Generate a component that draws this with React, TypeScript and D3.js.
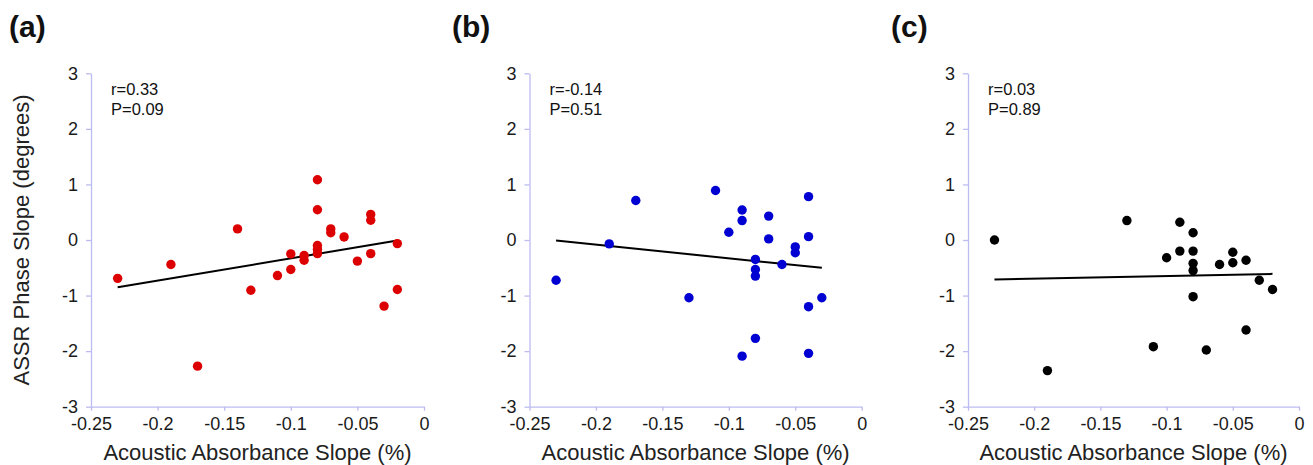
import { useEffect, useRef } from "react";
import * as d3 from "d3";

// panel (a) - red
const xA = [-0.23, -0.19, -0.17, -0.14, -0.13, -0.11, -0.1, -0.1, -0.09, -0.09, -0.08, -0.08, -0.08, -0.08, -0.08, -0.07, -0.07, -0.06, -0.05, -0.04, -0.04, -0.04, -0.03, -0.02, -0.02];
const yA = [-0.69, -0.44, -2.27, 0.2, -0.905, -0.64, -0.25, -0.53, -0.28, -0.365, 1.085, 0.545, -0.1, -0.17, -0.245, 0.2, 0.13, 0.055, -0.38, 0.46, 0.355, -0.245, -1.19, -0.065, -0.89];

// panel (b) - blue
const xB = [-0.23, -0.19, -0.17, -0.13, -0.11, -0.1, -0.09, -0.09, -0.09, -0.08, -0.08, -0.08, -0.08, -0.07, -0.07, -0.06, -0.05, -0.05, -0.04, -0.04, -0.04, -0.04, -0.03];
const yB = [-0.725, -0.07, 0.71, -1.04, 0.89, 0.14, 0.54, 0.35, -2.09, -0.35, -0.53, -0.65, -1.77, 0.43, 0.02, -0.44, -0.125, -0.23, 0.78, 0.06, -1.2, -2.04, -1.04];

// panel (c) - black
const xC = [-0.23, -0.19, -0.13, -0.11, -0.1, -0.09, -0.09, -0.08, -0.08, -0.08, -0.08, -0.08, -0.07, -0.06, -0.05, -0.05, -0.04, -0.04, -0.03, -0.02];
const yC = [0, -2.35, 0.35, -1.92, -0.32, 0.32, -0.2, 0.13, -0.2, -0.42, -0.55, -1.02, -1.98, -0.44, -0.22, -0.41, -0.365, -1.62, -0.725, -0.89];

// fitted lines: [intercept, slope], drawn over [min x, max x]
const fitA = [0.07, 4.0];
const fitB = [-0.574, -2.45];
const fitC = [-0.6, 0.476];

const panelLabels = ["(a)", "(b)", "(c)"];
const rLabels = ["r=0.33", "r=-0.14", "r=0.03"];
const pLabels = ["P=0.09", "P=0.51", "P=0.89"];

const xTicks = [-0.25, -0.2, -0.15, -0.1, -0.05, 0];
const yTicks = [-3, -2, -1, 0, 1, 2, 3];

const panels = [
  { xs: xA, ys: yA, fit: fitA, color: "#dd0000", left: 91, right: 424, labelX: 9 },
  { xs: xB, ys: yB, fit: fitB, color: "#0000d2", left: 529.5, right: 861.7, labelX: 452 },
  { xs: xC, ys: yC, fit: fitC, color: "#000000", left: 968, right: 1299, labelX: 891 },
];

const FONT = "'Liberation Sans', Arial, sans-serif";
const AXIS = "#bcbcf2";
const TOP = 73.3;
const BOTTOM = 406.7;

export default function App() {
  const svgRef = useRef<SVGSVGElement>(null);

  useEffect(() => {
    const svg = d3.select(svgRef.current);
    svg.selectAll("*").remove();

    panels.forEach((p, i) => {
      const x = d3.scaleLinear().domain([-0.25, 0]).range([p.left, p.right]);
      const y = d3.scaleLinear().domain([-3, 3]).range([BOTTOM, TOP]);

      const g = svg.append("g");

      const xAxis = d3.axisBottom(x)
        .tickValues(xTicks)
        .tickFormat(d => String(d))
        .tickSizeInner(4)
        .tickSizeOuter(0)
        .tickPadding(7);
      const yAxis = d3.axisLeft(y)
        .tickValues(yTicks)
        .tickFormat(d => String(d))
        .tickSizeInner(5)
        .tickSizeOuter(0)
        .tickPadding(8);

      const gx = g.append("g").attr("transform", `translate(0,${BOTTOM})`).call(xAxis);
      const gy = g.append("g").attr("transform", `translate(${p.left},0)`).call(yAxis);
      [gx, gy].forEach(a => {
        a.select(".domain").attr("stroke", AXIS).attr("stroke-width", 1.3);
        a.selectAll(".tick line").attr("stroke", AXIS).attr("stroke-width", 1.3);
        a.selectAll(".tick text")
          .attr("fill", "#1a1a1a")
          .style("font-family", FONT)
          .style("font-size", "18px");
      });

      // regression line
      const ext = d3.extent(p.xs) as [number, number];
      const line = d3.line<number>()
        .x(v => x(v))
        .y(v => y(p.fit[0] + p.fit[1] * v));
      g.append("path")
        .datum(ext)
        .attr("d", line)
        .attr("fill", "none")
        .attr("stroke", "#000")
        .attr("stroke-width", 2);

      // points
      g.selectAll("circle.pt")
        .data(p.xs.map((v, k) => [v, p.ys[k]]))
        .join("circle")
        .attr("class", "pt")
        .attr("cx", d => x(d[0]))
        .attr("cy", d => y(d[1]))
        .attr("r", 4.7)
        .attr("fill", p.color);

      // stats text
      const st = g.append("text")
        .style("font-family", FONT)
        .style("font-size", "16.5px")
        .attr("fill", "#111");
      st.append("tspan").attr("x", p.left + 20).attr("y", 95).text(rLabels[i]);
      st.append("tspan").attr("x", p.left + 20).attr("y", 114.5).text(pLabels[i]);

      // panel label
      g.append("text")
        .attr("x", p.labelX)
        .attr("y", 37)
        .style("font-family", FONT)
        .style("font-size", "30px")
        .style("font-weight", "bold")
        .attr("fill", "#111")
        .text(panelLabels[i]);

      // x title
      g.append("text")
        .attr("x", (p.left + p.right) / 2)
        .attr("y", 460)
        .attr("text-anchor", "middle")
        .style("font-family", FONT)
        .style("font-size", "22px")
        .attr("fill", "#222")
        .text("Acoustic Absorbance Slope (%)");
    });

    // y title (first panel only)
    svg.append("text")
      .attr("transform", `translate(29,${(TOP + BOTTOM) / 2}) rotate(-90)`)
      .attr("text-anchor", "middle")
      .style("font-family", FONT)
      .style("font-size", "22px")
      .attr("fill", "#222")
      .text("ASSR Phase Slope (degrees)");
  }, []);

  return (
    <svg
      ref={svgRef}
      width={1313}
      height={465}
      style={{ position: "absolute", left: 0, top: 0, background: "#fff" }}
    />
  );
}
